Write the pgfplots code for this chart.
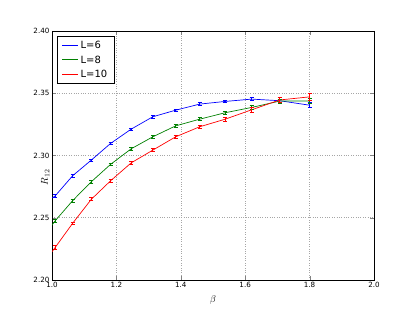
\documentclass[border=0pt]{standalone}
\usepackage{pgfplots}
\pgfplotsset{compat=1.18}
\usepackage{fontspec}
\setmainfont{DejaVu Sans}
\definecolor{mgreen}{rgb}{0,0.5,0}
\begin{document}
\fontsize{7.2}{9}\selectfont
\begin{tikzpicture}[x=1bp,y=1bp]
\useasboundingbox (0,0) rectangle (415,312);
\begin{axis}[at={(52bp,32bp)}, anchor=south west, scale only axis,
  width=322bp, height=249bp,
  xmin=1, xmax=2, ymin=2.2, ymax=2.4,
  xtick={1,1.2,1.4,1.6,1.8,2.0}, ytick={2.2,2.25,2.3,2.35,2.4},
  /pgf/number format/assume math mode=true,
  ticklabel style={font=\fontsize{7.2}{9}\selectfont},
  xticklabel style={/pgf/number format/fixed, /pgf/number format/precision=1, /pgf/number format/fixed zerofill},
  yticklabel style={/pgf/number format/fixed, /pgf/number format/precision=2, /pgf/number format/fixed zerofill},
  scaled y ticks=false,
  tick align=inside, tick pos=both, major tick length=4bp,
  grid=major, grid style={dotted, gray!70, line width=0.6pt},
  axis line style={black, line width=0.8pt},
  xlabel={$\beta$}, ylabel={$R_{12}$},
  label style={font=\fontsize{10}{12}\selectfont},
  xlabel style={at={(0.5,0)}, anchor=north, yshift=-13bp},
  ylabel style={at={(0,0.5)}, anchor=south, xshift=-22bp},
  legend style={at={(0.0146,0.98)}, anchor=north west, fill=white,
    font=\fontsize{10}{12}\selectfont, row sep=2bp, inner xsep=5bp, inner ysep=3bp},
  legend cell align=left,
]
\addlegendimage{legend image code/.code={\draw[blue, line width=0.8pt] (0bp,0bp) -- (16bp,0bp);}}
\addlegendentry{L=6}
\addlegendimage{legend image code/.code={\draw[mgreen, line width=0.8pt] (0bp,0bp) -- (16bp,0bp);}}
\addlegendentry{L=8}
\addlegendimage{legend image code/.code={\draw[red, line width=0.8pt] (0bp,0bp) -- (16bp,0bp);}}
\addlegendentry{L=10}
% lines
\addplot[draw=blue, line width=0.7pt, forget plot] table {
x y
1.000 2.2658
1.010 2.2676
1.064 2.2837
1.122 2.2963
1.182 2.3097
1.246 2.3212
1.313 2.3311
1.384 2.3364
1.459 2.3413
1.537 2.3434
1.620 2.3453
1.707 2.3440
1.800 2.3404
};
\addplot[draw=mgreen, line width=0.7pt, forget plot] table {
x y
1.000 2.2441
1.010 2.2476
1.064 2.2637
1.122 2.2789
1.182 2.2929
1.246 2.3054
1.313 2.3150
1.384 2.3238
1.459 2.3292
1.537 2.3343
1.620 2.3386
1.707 2.3437
1.800 2.3438
};
\addplot[draw=red, line width=0.7pt, forget plot] table {
x y
1.000 2.2227
1.010 2.2262
1.064 2.2455
1.122 2.2648
1.182 2.2797
1.246 2.2941
1.313 2.3043
1.384 2.3150
1.459 2.3231
1.537 2.3291
1.620 2.3367
1.707 2.3446
1.800 2.3471
};
% error bars
\pgfplotsset{ebar/.style={mark=none, draw=none, forget plot,
  error bars/.cd, y dir=both, y explicit,
  error bar style={line width=0.7pt, draw=#1},
  error mark options={rotate=90, mark size=2bp, line width=0.7pt, draw=#1}}}
\addplot[ebar=blue] table[y error=e] {
x y e
1.010 2.2676 0.0012
1.064 2.2837 0.0010
1.122 2.2963 0.0010
1.182 2.3097 0.0010
1.246 2.3212 0.0010
1.313 2.3311 0.0010
1.384 2.3364 0.0010
1.459 2.3413 0.0010
1.537 2.3434 0.0010
1.620 2.3453 0.0012
1.707 2.3440 0.0012
1.800 2.3404 0.0020
};
\addplot[ebar=mgreen] table[y error=e] {
x y e
1.010 2.2476 0.0012
1.064 2.2637 0.0010
1.122 2.2789 0.0010
1.182 2.2929 0.0010
1.246 2.3054 0.0010
1.313 2.3150 0.0012
1.384 2.3238 0.0012
1.459 2.3292 0.0012
1.537 2.3343 0.0014
1.620 2.3386 0.0015
1.707 2.3437 0.0018
1.800 2.3438 0.0020
};
\addplot[ebar=red] table[y error=e] {
x y e
1.010 2.2262 0.0013
1.064 2.2455 0.0012
1.122 2.2648 0.0012
1.182 2.2797 0.0012
1.246 2.2941 0.0012
1.313 2.3043 0.0012
1.384 2.3150 0.0013
1.459 2.3231 0.0014
1.537 2.3291 0.0015
1.620 2.3367 0.0018
1.707 2.3446 0.0022
1.800 2.3471 0.0030
};
\end{axis}
\end{tikzpicture}
\end{document}
